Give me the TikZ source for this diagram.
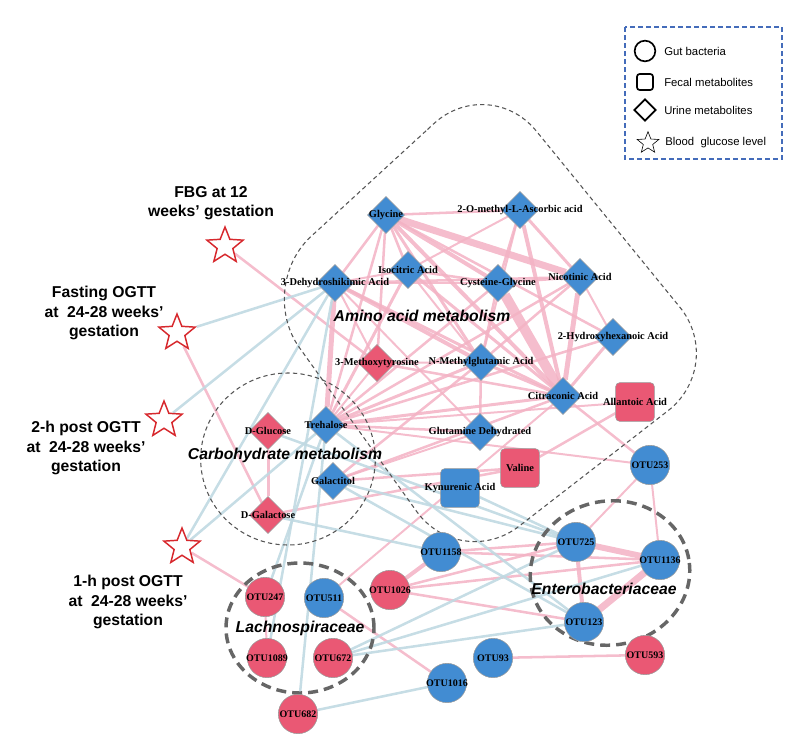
\documentclass[tikz,border=0pt]{standalone}
\usepackage{fontspec}
\setmainfont{Liberation Serif}
\newfontfamily\arialf{Liberation Sans}
\usetikzlibrary{shapes.geometric}
\pgfdeclarelayer{bg}
\pgfsetlayers{bg,main}
\definecolor{nblue}{RGB}{66,140,210}
\definecolor{nred}{RGB}{234,88,116}
\definecolor{pinkE}{RGB}{243,178,196}
\definecolor{blueE}{RGB}{192,217,226}
\definecolor{starred}{RGB}{215,40,45}
\definecolor{legblue}{RGB}{68,108,186}
\definecolor{grpgray}{RGB}{85,85,85}
\begin{document}
\begin{tikzpicture}[x=0.75pt,y=-0.75pt,
 base/.style={draw=black!40, line width=0.4pt, inner sep=0pt},
 bdia/.style={base, diamond, fill=nblue, minimum width=27.75pt, minimum height=27.75pt},
 rdia/.style={bdia, fill=nred},
 bsq/.style={base, rectangle, rounded corners=3pt, fill=nblue, minimum size=29pt},
 rsq/.style={bsq, fill=nred},
 bcirc/.style={base, circle, fill=nblue, minimum size=29.5pt},
 rcirc/.style={bcirc, fill=nred},
 lab/.style={font=\fontsize{7.8}{9}\selectfont\bfseries, inner sep=0pt},
 otu/.style={font=\fontsize{7.5}{9}\selectfont\bfseries, inner sep=0pt},
 bgstar/.style={star, star points=5, star point ratio=2.3, minimum size=28.5pt, draw=starred, fill=white, line width=1.1pt, inner sep=0pt},
 slab/.style={font=\arialf\bfseries\fontsize{11.8}{14.6}\selectfont, align=center, inner sep=0pt},
 gtitle/.style={font=\arialf\bfseries\itshape\fontsize{11.8}{14}\selectfont, inner sep=0pt},
 thindash/.style={draw=grpgray, line width=0.8pt, dash pattern=on 3.2pt off 2.4pt},
 thickdash/.style={draw=grpgray!90, line width=2.6pt, dash pattern=on 7.5pt off 4.5pt},
 legtext/.style={font=\arialf\fontsize{8.5}{10}\selectfont, anchor=west, inner sep=0pt},
 pe/.style={draw=pinkE, line width=#1, draw opacity=0.85},
 be/.style={draw=blueE, line width=#1, draw opacity=0.9}
]
\useasboundingbox (0,0) rectangle (794,743);

% group outlines
\draw[thindash, rounded corners=56pt] (372.5,180) -- (489,73) -- (727,365) -- (460,572) -- (256,287) -- cycle;
\draw[thindash] (288,459) ellipse [x radius=65.5pt, y radius=64.5pt];
\draw[thickdash] (300,628) ellipse [x radius=55.5pt, y radius=48.75pt];
\draw[thickdash, rotate around={10:(610,573)}] (610,573) ellipse [x radius=60pt, y radius=54pt];

% metabolite nodes
\node[bdia, label={[lab]center:Glycine}] (gly) at (386,215) {};
\node[bdia, label={[lab]center:2-O-methyl-L-Ascorbic acid}] (o2m) at (520,210) {};
\node[bdia, label={[lab]center:Isocitric Acid}] (iso) at (408,270) {};
\node[bdia, label={[lab]center:3-Dehydroshikimic Acid}] (dhs) at (335,283) {};
\node[bdia, label={[lab]center:Cysteine-Glycine}] (cys) at (498,283) {};
\node[bdia, label={[lab]center:Nicotinic Acid}] (nic) at (580,277) {};
\node[bdia, label={[lab]center:2-Hydroxyhexanoic Acid}] (hha) at (613,337) {};
\node[bdia, label={[lab]center:N-Methylglutamic Acid}] (nmg) at (481,362) {};
\node[rdia, label={[lab]center:3-Methoxytyrosine}] (mty) at (377,363) {};
\node[bdia, label={[lab]center:Citraconic Acid}] (cit) at (563,396) {};
\node[rsq, label={[lab]center:Allantoic Acid}] (all) at (635,402) {};
\node[bdia, label={[lab]center:Glutamine Dehydrated}] (gln) at (480,432) {};
\node[rsq, label={[lab]center:Valine}] (val) at (520,468) {};
\node[bsq, label={[lab]center:Kynurenic Acid}] (kyn) at (460,488) {};
\node[bdia, label={[lab]center:Trehalose}] (tre) at (326,425) {};
\node[rdia, label={[lab]center:D-Glucose}] (glc) at (268,431) {};
\node[bdia, label={[lab]center:Galactitol}] (gal) at (333,481) {};
\node[rdia, label={[lab]center:D-Galactose}] (gala) at (268,515) {};

% bacteria nodes
\node[bcirc, label={[otu]center:OTU253}] (o253) at (650,465) {};
\node[bcirc, label={[otu]center:OTU1158}] (o1158) at (441,552) {};
\node[rcirc, label={[otu]center:OTU1026}] (o1026) at (390,590) {};
\node[rcirc, label={[otu]center:OTU247}] (o247) at (265,597) {};
\node[bcirc, label={[otu]center:OTU511}] (o511) at (324,598) {};
\node[rcirc, label={[otu]center:OTU1089}] (o1089) at (267,658) {};
\node[rcirc, label={[otu]center:OTU672}] (o672) at (333,658) {};
\node[rcirc, label={[otu]center:OTU682}] (o682) at (298,714) {};
\node[bcirc, label={[otu]center:OTU1016}] (o1016) at (447,683) {};
\node[bcirc, label={[otu]center:OTU93}] (o93) at (493,658) {};
\node[bcirc, label={[otu]center:OTU725}] (o725) at (576,542) {};
\node[bcirc, label={[otu]center:OTU1136}] (o1136) at (660,560) {};
\node[bcirc, label={[otu]center:OTU123}] (o123) at (584,622) {};
\node[rcirc, label={[otu]center:OTU593}] (o593) at (645,655) {};

% blood glucose stars
\node[bgstar] (sfbg) at (225,246) {};
\node[bgstar] (sfast) at (177,333) {};
\node[bgstar] (s2h) at (164,420) {};
\node[bgstar] (s1h) at (182,547) {};

\node[slab] (lfbg) at (211,203) {FBG at 12\\weeks’ gestation};
\node[slab] (lfast) at (104,313) {Fasting OGTT\\at\ \ 24-28 weeks’\\gestation};
\node[slab] (l2h) at (86,448) {2-h post OGTT\\at\ \ 24-28 weeks’\\gestation};
\node[slab] (l1h) at (128,602) {1-h post OGTT\\at\ \ 24-28 weeks’\\gestation};

% group titles
\node[gtitle] (tamino) at (422,316) {Amino acid metabolism};
\node[gtitle] (tcarb) at (285,455) {Carbohydrate metabolism};
\node[gtitle] (tlach) at (300,628) {Lachnospiraceae};
\node[gtitle] (tentero) at (604,589) {Enterobacteriaceae};

% legend
\draw[legblue, line width=1.1pt, dash pattern=on 3.5pt off 2.5pt] (625,27) rectangle (782,159);
\node[circle, draw=black, line width=1.25pt, minimum size=15.5pt, inner sep=0pt] (lgc) at (645,51) {};
\node[rectangle, rounded corners=2pt, draw=black, line width=1.25pt, minimum size=12pt, inner sep=0pt] (lgs) at (645,82) {};
\node[diamond, draw=black, line width=1.25pt, minimum width=16.5pt, minimum height=16.5pt, inner sep=0pt] (lgd) at (645,110) {};
\node[star, star points=5, star point ratio=2.3, draw=black, line width=0.45pt, minimum size=17pt, inner sep=0pt] (lgst) at (648,143) {};
\node[legtext] (lt1) at (664,51) {Gut bacteria};
\node[legtext] (lt2) at (664,82) {Fecal metabolites};
\node[legtext] (lt3) at (664,110) {Urine metabolites};
\node[legtext] (lt4) at (665,143) {Blood\ \ glucose level};

% edges
\begin{pgfonlayer}{bg}
\foreach \a/\b/\w in {
 gly/o2m/1.9pt, gly/nic/5.25pt, gly/cys/3pt, gly/cit/3pt, gly/iso/1.9pt, gly/dhs/1.9pt,
 gly/nmg/2.25pt, gly/mty/1.9pt, gly/tre/1.9pt, gly/hha/1.9pt,
 o2m/cys/1.9pt, o2m/nic/2.25pt, o2m/cit/3pt, o2m/iso/1.5pt, o2m/nmg/1.5pt,
 cys/cit/7.5pt, cys/nic/1.9pt, cys/dhs/1.9pt, cys/iso/1.9pt, cys/nmg/1.9pt, cys/tre/1.9pt,
 nic/cit/3.75pt, nic/dhs/1.9pt, nic/nmg/1.9pt, nic/tre/1.9pt, nic/hha/1.5pt,
 iso/cit/2.25pt, iso/dhs/1.5pt, iso/tre/2.25pt, iso/nmg/1.5pt,
 dhs/tre/3.75pt, dhs/nmg/3pt, dhs/cit/2.25pt, dhs/mty/1.5pt, dhs/gln/1.5pt,
 nmg/cit/2.25pt, nmg/gln/1.9pt, nmg/tre/2.25pt,
 mty/cit/1.9pt, mty/tre/1.5pt, mty/nmg/1.5pt,
 hha/cit/2.25pt, hha/tre/1.9pt,
 cit/tre/2.25pt, cit/gal/1.9pt, cit/o253/1.9pt,
 gln/tre/1.9pt, gln/gal/1.5pt, gal/val/1.9pt, gal/nmg/1.9pt,
 all/val/1.9pt, all/tre/1.5pt, gala/val/1.9pt, glc/gala/2.25pt, tre/o253/1.5pt,
 sfbg/mty/1.9pt, sfast/gala/1.9pt, s1h/o247/1.9pt,
 o247/o1089/1.5pt, o511/o1016/1.9pt, o511/cit/1.5pt,
 o1026/o1158/3pt, o1026/o725/1.9pt, o1026/o1136/1.9pt, o1026/o123/1.9pt,
 o1158/o725/1.9pt, o1158/o1136/1.9pt,
 o725/o1136/4.5pt, o725/o123/3pt, o1136/o123/5.25pt,
 o253/o1136/1.5pt, o253/o725/1.5pt, o93/o593/1.9pt}
 \draw[pe=\w] (\a) -- (\b);
\foreach \a/\b in {
 sfast/dhs, s2h/dhs, s1h/dhs, s1h/tre, glc/o725, gal/o725, gal/o123, tre/o123,
 gala/o1158, dhs/o1089, tre/o682, tre/o247, kyn/o725,
 o672/o725, o672/o1136, o672/o123, o682/o1016}
 \draw[be=1.9pt] (\a) -- (\b);
\end{pgfonlayer}
\end{tikzpicture}
\end{document}
